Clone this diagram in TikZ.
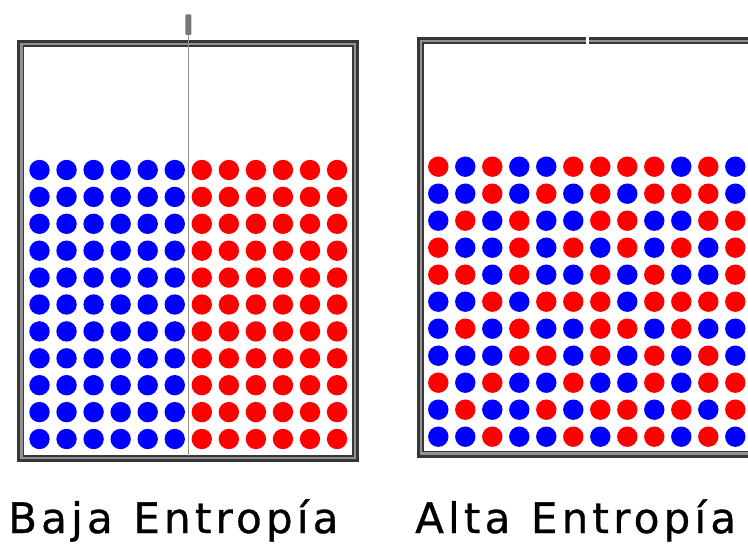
\documentclass[tikz,border=0pt]{standalone}
\usepackage{fontspec}
\newfontfamily\labelfont[LetterSpace=10,FakeBold=0.8]{DejaVu Sans}
\definecolor{dotR}{RGB}{255,0,0}
\definecolor{dotB}{RGB}{0,0,255}
\definecolor{frameDark}{RGB}{55,55,55}
\definecolor{frameMid}{RGB}{145,145,145}
\definecolor{handle}{RGB}{120,120,120}
\tikzset{
  framemid/.style={draw=frameMid, line width=6.5pt},
  frameouter/.style={draw=frameDark, line width=2.6pt},
  frameinner/.style={draw=frameDark, line width=1.3pt},
  ball/.style={fill=dot#1},
  caption/.style={font=\labelfont\fontsize{42}{44}\selectfont, anchor=base west, inner sep=0pt},
}
\begin{document}
\begin{tikzpicture}[x=1pt,y=-1pt]
\useasboundingbox (0,0) rectangle (748,548);
\fill[white] (0,0) rectangle (748,548);
\begin{scope}
\clip (0,0) rectangle (748,548);
% ---- left box (low entropy)
\draw[framemid] (20.75,43.25) rectangle (355.75,458.75);
\draw[frameouter] (18.75,41.25) rectangle (357.75,460.75);
\draw[frameinner] (23.4,45.9) rectangle (353.1,456.1);
% ---- right box (high entropy)
\draw[framemid] (420.25,40.25) rectangle (780,454.25);
\draw[frameouter] (418.25,38.25) rectangle (782,456.25);
\draw[frameinner] (422.9,42.9) rectangle (778,451.6);
\fill[white] (586,35) rectangle (589,48);
% ---- divider with handle
\draw[draw=frameMid, line width=1.6pt] (188.3,33) -- (188.3,455.5);
\fill[fill=handle, rounded corners=1pt] (185.3,14.5) rectangle (191.3,35);
% ---- left dots
\foreach \j in {0,...,10} {
  \foreach \i in {0,...,5}
    \fill[ball=B] ({39.5+27.05*\i},{170+26.9*\j}) circle (10.2);
  \foreach \i in {6,...,11}
    \fill[ball=R] ({39.5+27.05*\i},{170+26.9*\j}) circle (10.2);
}
% ---- right dots
\foreach \row [count=\j from 0] in {
  {R,B,R,B,B,R,R,R,R,B,R,B},
  {B,B,R,B,R,B,R,B,R,R,R,B},
  {B,R,B,R,B,B,R,R,B,B,R,R},
  {R,B,B,R,B,R,B,R,B,R,B,R},
  {R,R,B,R,B,B,R,B,R,B,B,R},
  {B,B,R,B,R,R,R,B,R,R,R,R},
  {B,R,B,R,B,B,R,R,B,R,B,B},
  {B,B,B,R,R,B,R,B,R,B,R,B},
  {R,B,R,B,B,R,B,B,R,B,R,R},
  {B,R,B,B,R,B,R,R,B,R,B,R},
  {B,B,R,B,B,R,B,R,R,B,R,B}} {
  \foreach \c [count=\i from 0] in \row
    \fill[ball=\c] ({438.3+27*\i},{166.7+27*\j}) circle (10.2);
}
\end{scope}
% ---- captions
\node[caption] (low) at (8,533) {Baja\hspace{3pt} Entropía};
\node[caption] (high) at (415,533) {Alta\hspace{3pt} Entropía};
\end{tikzpicture}
\end{document}
